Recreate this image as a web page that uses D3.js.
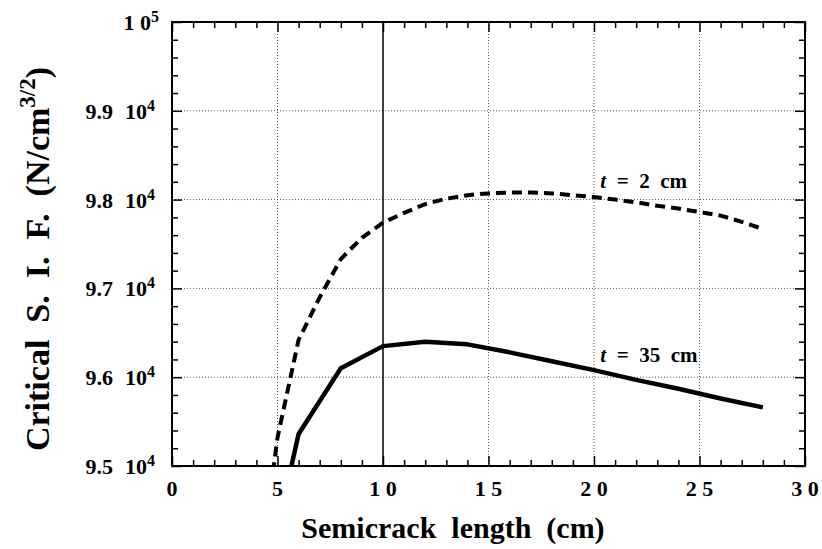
<!DOCTYPE html>
<html>
<head>
<meta charset="utf-8">
<script src="https://cdn.jsdelivr.net/npm/d3@7"></script>
<style>
  body { margin: 0; background: #fff; }
</style>
</head>
<body>
<div id="chart"></div>
<script>
// t = 2 cm (dashed)
const thinLength = [4, 5, 6, 7, 8, 9, 10, 11, 12, 13, 14, 15, 16, 17, 18, 19, 20, 21, 22, 23, 24, 25, 26, 27, 28];
const thinSIF = [93500, 95320, 96420, 96900, 97330, 97570, 97740, 97850, 97950, 98010, 98050, 98070, 98080, 98080, 98070, 98050, 98030, 98000, 97970, 97930, 97900, 97860, 97820, 97750, 97670];
// t = 35 cm (solid)
const thickLength = [5, 6, 8, 10, 12, 14, 16, 18, 20, 22, 24, 26, 28];
const thickSIF = [94300, 95360, 96100, 96350, 96400, 96370, 96280, 96180, 96080, 95970, 95870, 95760, 95660];

const xMajor = [0, 5, 10, 15, 20, 25, 30];
const xTickLabels = ["0", "5", "1 0", "1 5", "2 0", "2 5", "3 0"];
const yMajor = [95000, 96000, 97000, 98000, 99000, 100000];
const yMantissa = ["9.5", "9.6", "9.7", "9.8", "9.9", ""];
const yBase = ["10", "10", "10", "10", "10", "1 0"];
const yExponent = ["4", "4", "4", "4", "4", "5"];
const markerLine = 10;

const width = 822, height = 549;
const margin = { top: 22, right: 17, bottom: 83, left: 172 };
const innerWidth = width - margin.left - margin.right;
const innerHeight = height - margin.top - margin.bottom;
const FONT = "Times New Roman";

const svg = d3.select("#chart").append("svg")
    .attr("width", width).attr("height", height)
    .attr("viewBox", `0 0 ${width} ${height}`);

const g = svg.append("g").attr("transform", `translate(${margin.left},${margin.top})`);

const x = d3.scaleLinear().domain([0, 30]).range([0, innerWidth]);
const y = d3.scaleLinear().domain([95000, 100000]).range([innerHeight, 0]);

const xMinor = d3.range(0, 31, 1).filter(v => v % 5 !== 0);
const yMinor = d3.range(95000, 100001, 200).filter(v => v % 1000 !== 0);

g.append("defs").append("clipPath").attr("id", "plot-clip")
    .append("rect").attr("width", innerWidth).attr("height", innerHeight);

// dotted grid
g.append("g").selectAll("line").data(xMajor.filter(v => v > 0 && v < 30 && v !== markerLine)).join("line")
    .attr("x1", d => x(d)).attr("x2", d => x(d)).attr("y1", 0).attr("y2", innerHeight)
    .attr("stroke", "#555").attr("stroke-width", 1).attr("stroke-dasharray", "1,2");
g.append("g").selectAll("line").data(yMajor.filter(v => v > 95000 && v < 100000)).join("line")
    .attr("x1", 0).attr("x2", innerWidth).attr("y1", d => y(d)).attr("y2", d => y(d))
    .attr("stroke", "#555").attr("stroke-width", 1).attr("stroke-dasharray", "1,2");

// solid vertical line at 10 cm
g.append("line")
    .attr("x1", x(markerLine)).attr("x2", x(markerLine)).attr("y1", 0).attr("y2", innerHeight)
    .attr("stroke", "#000").attr("stroke-width", 1.5);

// inward ticks on all four sides
function ticks(axis, values, size, transform) {
    const a = g.append("g").attr("transform", transform)
        .call(axis.tickValues(values).tickSize(-size).tickFormat(""));
    a.select(".domain").remove();
    a.selectAll("text").remove();
    a.selectAll("line").attr("stroke", "#000").attr("stroke-width", 1.5);
}
ticks(d3.axisBottom(x), xMajor, 10, `translate(0,${innerHeight})`);
ticks(d3.axisBottom(x), xMinor, 6, `translate(0,${innerHeight})`);
ticks(d3.axisTop(x), xMajor, 10, "translate(0,0)");
ticks(d3.axisTop(x), xMinor, 6, "translate(0,0)");
ticks(d3.axisLeft(y), yMajor, 10, "translate(0,0)");
ticks(d3.axisLeft(y), yMinor, 6, "translate(0,0)");
ticks(d3.axisRight(y), yMajor, 10, `translate(${innerWidth},0)`);
ticks(d3.axisRight(y), yMinor, 6, `translate(${innerWidth},0)`);

// curves
const line = d3.line().x(d => x(d[0])).y(d => y(d[1]));
const curves = g.append("g").attr("clip-path", "url(#plot-clip)");
curves.append("path").datum(d3.zip(thinLength, thinSIF))
    .attr("d", line).attr("fill", "none").attr("stroke", "#000")
    .attr("stroke-width", 4).attr("stroke-dasharray", "10,6");
curves.append("path").datum(d3.zip(thickLength, thickSIF))
    .attr("d", line).attr("fill", "none").attr("stroke", "#000")
    .attr("stroke-width", 4.5).attr("stroke-linejoin", "round");

// frame
g.append("rect").attr("width", innerWidth).attr("height", innerHeight)
    .attr("fill", "none").attr("stroke", "#000").attr("stroke-width", 2);

// x tick labels
g.append("g").selectAll("text").data(xMajor).join("text")
    .attr("x", d => x(d)).attr("y", innerHeight + 30)
    .attr("font-family", FONT).attr("font-weight", "bold")
    .attr("text-anchor", "middle").attr("font-size", 22)
    .attr("xml:space", "preserve")
    .text((d, i) => xTickLabels[i]);

// y tick labels
const yl = g.append("g").selectAll("text").data(yMajor).join("text")
    .attr("x", (d, i) => i === yMajor.length - 1 ? -13 : -17)
    .attr("y", d => y(d) + 8)
    .attr("font-family", FONT).attr("font-weight", "bold")
    .attr("text-anchor", "end").attr("font-size", 22)
    .attr("xml:space", "preserve");
yl.append("tspan").text((d, i) => yMantissa[i]);
yl.append("tspan").attr("dx", (d, i) => yMantissa[i] ? 12 : 0).text((d, i) => yBase[i]);
yl.append("tspan").attr("dy", -8).attr("font-size", 16).text((d, i) => yExponent[i]);

// curve labels
function curveLabel(value, ty) {
    const t = g.append("text").attr("x", x(20.3)).attr("y", ty).attr("font-size", 21)
        .attr("font-family", FONT).attr("font-weight", "bold")
        .attr("xml:space", "preserve");
    t.append("tspan").attr("font-style", "italic").text("t");
    t.append("tspan").text(`  =  ${value}  cm`);
}
curveLabel("2", 166);
curveLabel("35", 340);

// axis titles
svg.append("text")
    .attr("x", 453).attr("y", 538)
    .attr("font-family", FONT).attr("font-weight", "bold")
    .attr("text-anchor", "middle").attr("font-size", 30)
    .attr("xml:space", "preserve")
    .text("Semicrack  length  (cm)");

const yt = svg.append("text")
    .attr("transform", "translate(49,259) rotate(-90)")
    .attr("font-family", FONT).attr("font-weight", "bold")
    .attr("text-anchor", "middle").attr("font-size", 34)
    .attr("xml:space", "preserve");
yt.append("tspan").text("Critical  S.  I.  F.  (N/cm");
yt.append("tspan").attr("dy", -14).attr("font-size", 23).text("3/2");
yt.append("tspan").attr("dy", 14).text(")");
</script>
</body>
</html>
